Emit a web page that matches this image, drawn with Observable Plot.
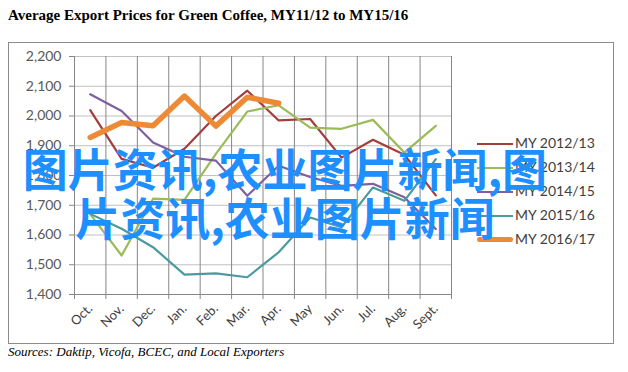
<!DOCTYPE html>
<html>
<head>
<meta charset="utf-8">
<script src="https://cdn.jsdelivr.net/npm/d3@7"></script>
<script src="https://cdn.jsdelivr.net/npm/@observablehq/plot@0.6"></script>
<style>
  html, body { margin: 0; padding: 0; background: #fff; }
  #page { position: relative; width: 628px; height: 372px; overflow: hidden; background: #fff; }
  #title { position: absolute; left: 8px; top: 7px; font: bold 15px "Liberation Serif", serif; color: #000; white-space: nowrap; }
  #frame { position: absolute; left: 8px; top: 42px; width: 606px; height: 302px; border: 1.5px solid #8c8c8c; box-sizing: border-box; }
  #chart { position: absolute; left: 0; top: 0; }
  #legend { position: absolute; left: 477px; top: 133px; font: 14px "Lato", sans-serif; color: #404040; }
  .li { position: relative; height: 24px; }
  .sw { position: absolute; left: 0; width: 36px; top: 9px; }
  .lt { position: absolute; left: 38px; top: 0; white-space: nowrap; line-height: 20px; }
  #source { position: absolute; left: 8px; top: 344px; font: italic 13px "Liberation Serif", serif; color: #000; white-space: nowrap; }
  .wm { position: absolute; width: 700px; left: -65px; text-align: center; font: bold 45px "Noto Sans CJK SC", sans-serif; color: #1e8fff; line-height: 1; white-space: nowrap; }
</style>
</head>
<body>
<div id="page">
  <div id="title"></div>
  <div id="frame"></div>
  <div id="chart"></div>
  <div id="legend"></div>
  <div id="source"></div>
  <div class="wm" id="wm1" style="top:145px"></div>
  <div class="wm" id="wm2" style="top:194px"></div>
</div>
<script>
const titleText = "Average Export Prices for Green Coffee, MY11/12 to MY15/16";
const sourceText = "Sources: Daktip, Vicofa, BCEC, and Local Exporters";
const watermarkLines = ["图片资讯,农业图片新闻,图", "片资讯,农业图片新闻"];

const months = ["Oct.", "Nov.", "Dec.", "Jan.", "Feb.", "Mar.", "Apr.", "May", "Jun.", "Jul.", "Aug.", "Sept."];
const yTicks = [1400, 1500, 1600, 1700, 1800, 1900, 2000, 2100, 2200];

const seriesNames = ["MY 2012/13", "MY 2013/14", "MY 2014/15", "MY 2015/16", "MY 2016/17"];
const seriesColors = ["#a23e3c", "#9bbb59", "#7d60a0", "#4a9aa0", "#ee8a35"];
const seriesWidths = [2.2, 2.2, 2.2, 2.2, 5.5];

const my2012 = [2020, 1856, 1826, 1890, 2000, 2085, 1985, 1990, 1860, 1920, 1870, 1733];
const my2013 = [1670, 1531, 1722, 1718, 1873, 2015, 2036, 1961, 1957, 1987, 1877, 1967];
const my2014 = [2073, 2017, 1911, 1863, 1850, 1732, 1833, 1795, 1765, 1772, 1727, 1620];
const my2015 = [1671, 1621, 1559, 1467, 1471, 1458, 1542, 1659, 1626, 1760, 1715, 1855];
const my2016 = [1928, 1978, 1967, 2067, 1966, 2063, 2043];

const allSeries = [my2012, my2013, my2014, my2015, my2016];

const rows = [];
allSeries.forEach((vals, s) => vals.forEach((v, i) => rows.push({series: seriesNames[s], i, value: v})));

const idx = months.map((_, i) => i);
const bounds = months.map((_, i) => i - 0.5).concat([months.length - 0.5]);

document.getElementById("title").textContent = titleText;
document.getElementById("source").textContent = sourceText;
document.getElementById("wm1").textContent = watermarkLines[0];
document.getElementById("wm2").textContent = watermarkLines[1];

const axisColor = "#868686";
const marks = [
  Plot.gridY(yTicks, {stroke: "#c0c0c0", strokeOpacity: 1, strokeWidth: 1}),
  Plot.ruleY([1400], {stroke: axisColor, strokeWidth: 1}),
  Plot.ruleX([-0.5], {y1: 1400, y2: 2200, stroke: axisColor, strokeWidth: 1}),
  Plot.tickX(bounds, {x: d => d, y1: 1400, y2: 1400, stroke: axisColor, insetBottom: -5}),
  Plot.axisY(yTicks, {tickFormat: d3.format(","), tickSize: 5, tickPadding: 8, stroke: axisColor, color: "#595959", fontSize: 14, fontFamily: "Lato", label: null}),
  Plot.axisX(idx, {tickFormat: i => months[i], tickSize: 0, tickPadding: 12, tickRotate: -45, color: "#404040", fontSize: 13, fontFamily: "Lato", label: null}),
];
allSeries.forEach((vals, s) => {
  marks.push(Plot.line(rows.filter(r => r.series === seriesNames[s]), {
    x: "i", y: "value", stroke: seriesColors[s], strokeWidth: seriesWidths[s], strokeLinejoin: "round", strokeLinecap: "round"
  }));
});

const chart = Plot.plot({
  width: 628,
  height: 372,
  marginLeft: 74,
  marginRight: 177,
  marginTop: 56,
  marginBottom: 78,
  x: {type: "linear", domain: [-0.5, 11.5]},
  y: {domain: [1400, 2200]},
  style: {background: "transparent", overflow: "visible"},
  marks
});
document.getElementById("chart").appendChild(chart);

const legend = document.getElementById("legend");
seriesNames.forEach((name, s) => {
  const li = document.createElement("div");
  li.className = "li";
  const sw = document.createElement("div");
  sw.className = "sw";
  sw.style.borderTop = `${seriesWidths[s] > 3 ? 5 : 2}px solid ${seriesColors[s]}`;
  sw.style.top = seriesWidths[s] > 3 ? "8px" : "10px";
  if (seriesWidths[s] > 3) sw.style.borderRadius = "3px";
  const lt = document.createElement("div");
  lt.className = "lt";
  lt.textContent = name;
  li.appendChild(sw); li.appendChild(lt);
  legend.appendChild(li);
});
</script>
</body>
</html>
